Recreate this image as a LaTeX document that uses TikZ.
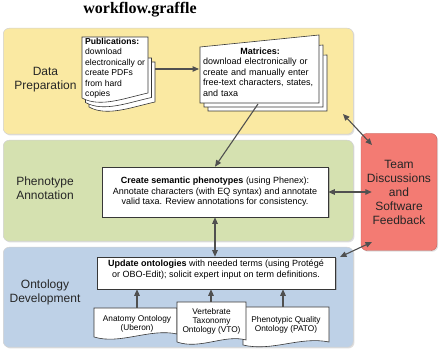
\documentclass[tikz,border=0pt]{standalone}
\usepackage{fontspec}
\setmainfont{Liberation Sans}
\newfontfamily\titlefont{Liberation Serif}
\usetikzlibrary{arrows.meta,shadows,calc}
\definecolor{ypanel}{RGB}{250,233,162}
\definecolor{gpanel}{RGB}{213,225,176}
\definecolor{bpanel}{RGB}{190,209,231}
\definecolor{rbox}{RGB}{243,123,115}
\definecolor{arr}{RGB}{80,80,80}
\definecolor{edge}{RGB}{55,55,55}
\begin{document}
\begin{tikzpicture}[x=1pt,y=-1pt,
  panel/.style={draw=black!18, line width=0.5pt, rounded corners=6pt,
    drop shadow={shadow xshift=1.2pt,shadow yshift=-1.2pt,opacity=0.25},
    minimum width=350pt, inner sep=0pt, anchor=north west},
  plabel/.style={font=\fontsize{12}{14}\selectfont, align=center, inner sep=0pt, text=black!85},
  page/.style={draw=edge, fill=white, line width=0.6pt},
  whitebox/.style={draw=edge, fill=white, line width=0.6pt, inner sep=0pt,
    drop shadow={shadow xshift=1.5pt,shadow yshift=-1.5pt,opacity=0.45}},
  txt/.style={font=\fontsize{9}{10.5}\selectfont, inner sep=0pt},
  small/.style={font=\fontsize{8.3}{9}\selectfont, inner sep=0pt, align=center},
  conn/.style={draw=arr, line width=1.1pt},
  >={Triangle[length=6.5pt,width=5.5pt]}
]
\useasboundingbox[fill=white] (0,0) rectangle (440,352);

% title
\node[font=\titlefont\bfseries\fontsize{16}{18}\selectfont, inner sep=0pt] (title) at (140,10) {workflow.graffle};

% panels
\node[panel, fill=ypanel, minimum height=106pt] (prep) at (3,28) {};
\node[panel, fill=gpanel, minimum height=101pt] (annot) at (3,140) {};
\node[panel, fill=bpanel, minimum height=100pt] (onto) at (3,247) {};

\node[plabel] (prepL) at (45.5,80) {Data\\Preparation};
\node[plabel] (annotL) at (45,188.5) {Phenotype\\Annotation};
\node[plabel] (ontoL) at (45,292.5) {Ontology\\Development};

% team box
\node[draw=rbox!80!black, line width=0.4pt, fill=rbox, rounded corners=6pt,
  minimum width=76pt, minimum height=117pt, inner sep=0pt,
  drop shadow={shadow xshift=1.2pt,shadow yshift=-1.2pt,opacity=0.25},
  font=\fontsize{12}{14}\selectfont, align=center, text=black!85] (team) at (399,192) {Team\\Discussions\\and\\Software\\Feedback};

% publications stack
\draw[page] (89,62) -- (155,62) -- (155,102) .. controls (132,107) and (107,117) .. (89,107) -- cycle;
\draw[page] (85.5,58) -- (151.5,58) -- (151.5,97.5) .. controls (128.5,102.5) and (103.5,112.5) .. (85.5,102.5) -- cycle;
\draw[page] (82,37) -- (148,37) -- (148,93) .. controls (125,98) and (100,108) .. (82,98) -- cycle;
\node[font=\fontsize{8.6}{10.5}\selectfont, inner sep=0pt, align=left, anchor=north west] (pub) at (85,38)
  {\textbf{Publications:}\\download\\electronically or\\create PDFs\\from hard\\copies};

% matrices stack
\draw[page] (208,60) -- (327,55) -- (327,111) -- (208,111) -- cycle;
\draw[page] (204,55) -- (323,45) -- (323,107) -- (204,107) -- cycle;
\draw[page] (200,47) -- (319,35) -- (319,103) -- (200,103) -- cycle;
\node[txt, align=left, text width=114pt, anchor=north west] (mat) at (203,47.5)
  {\hfill\textbf{Matrices:}\hfill\null\\download electronically or\\create and manually enter\\free-text characters, states,\\and taxa};

\coordinate (pubR) at (155,69);
\coordinate (matL) at (199,69);
\coordinate (matB) at (258,104);

% semantic phenotypes
\node[whitebox, minimum width=226pt, minimum height=50pt, txt, align=center] (sem) at (215,192)
  {\textbf{Create semantic phenotypes} (using Phenex):\\Annotate characters (with EQ syntax) and annotate\\valid taxa. Review annotations for consistency.};

% update ontologies
\node[whitebox, minimum width=238pt, minimum height=32pt] (upd) at (216,273) {};
\node[txt, align=center] (updT) at (216,269.5)
  {\textbf{Update ontologies} with needed terms (using Protégé\\or OBO-Edit); solicit expert input on term definitions.};

% ontology documents
\draw[page] (94,308) -- (177,308) -- (177,334) .. controls (150,328) and (120,345) .. (94,337) -- cycle;
\draw[page] (243,307) -- (329,307) -- (329,342) .. controls (300,336) and (272,352) .. (243,345) -- cycle;
\draw[page] (177,302) -- (246,302) -- (246,340) .. controls (225,334) and (200,350) .. (177,342) -- cycle;
\node[small] (anat) at (137,323.5) {Anatomy Ontology\\(Uberon)};
\node[small] (vto) at (211.5,321) {Vertebrate\\Taxonomy\\Ontology (VTO)};
\node[small] (pato) at (286,325) {Phenotypic Quality\\Ontology (PATO)};
\coordinate (anatTop) at (137,308);
\coordinate (vtoTop) at (211,302);
\coordinate (patoTop) at (283,307);

% connectors
\draw[conn,->] (pubR) -- (matL);
\draw[conn,->] (matB) -- (sem.north);
\draw[conn,<->] (sem.south) -- (sem.south |- upd.north);
\draw[conn,<->] (sem.east) -- ($(team.west)+(11,0)$);
\coordinate (prepC) at (343,114);
\coordinate (teamA) at (372,145);
\coordinate (teamB) at (372,242);
\coordinate (ontoC) at (340,257);
\draw[conn,<->] (prepC) -- (teamA);
\draw[conn,<->] (teamB) -- (ontoC);
\draw[conn,->] (anatTop) -- (anatTop |- upd.south);
\draw[conn,->] (vtoTop) -- (vtoTop |- upd.south);
\draw[conn,->] (patoTop) -- (patoTop |- upd.south);
\end{tikzpicture}
\end{document}
